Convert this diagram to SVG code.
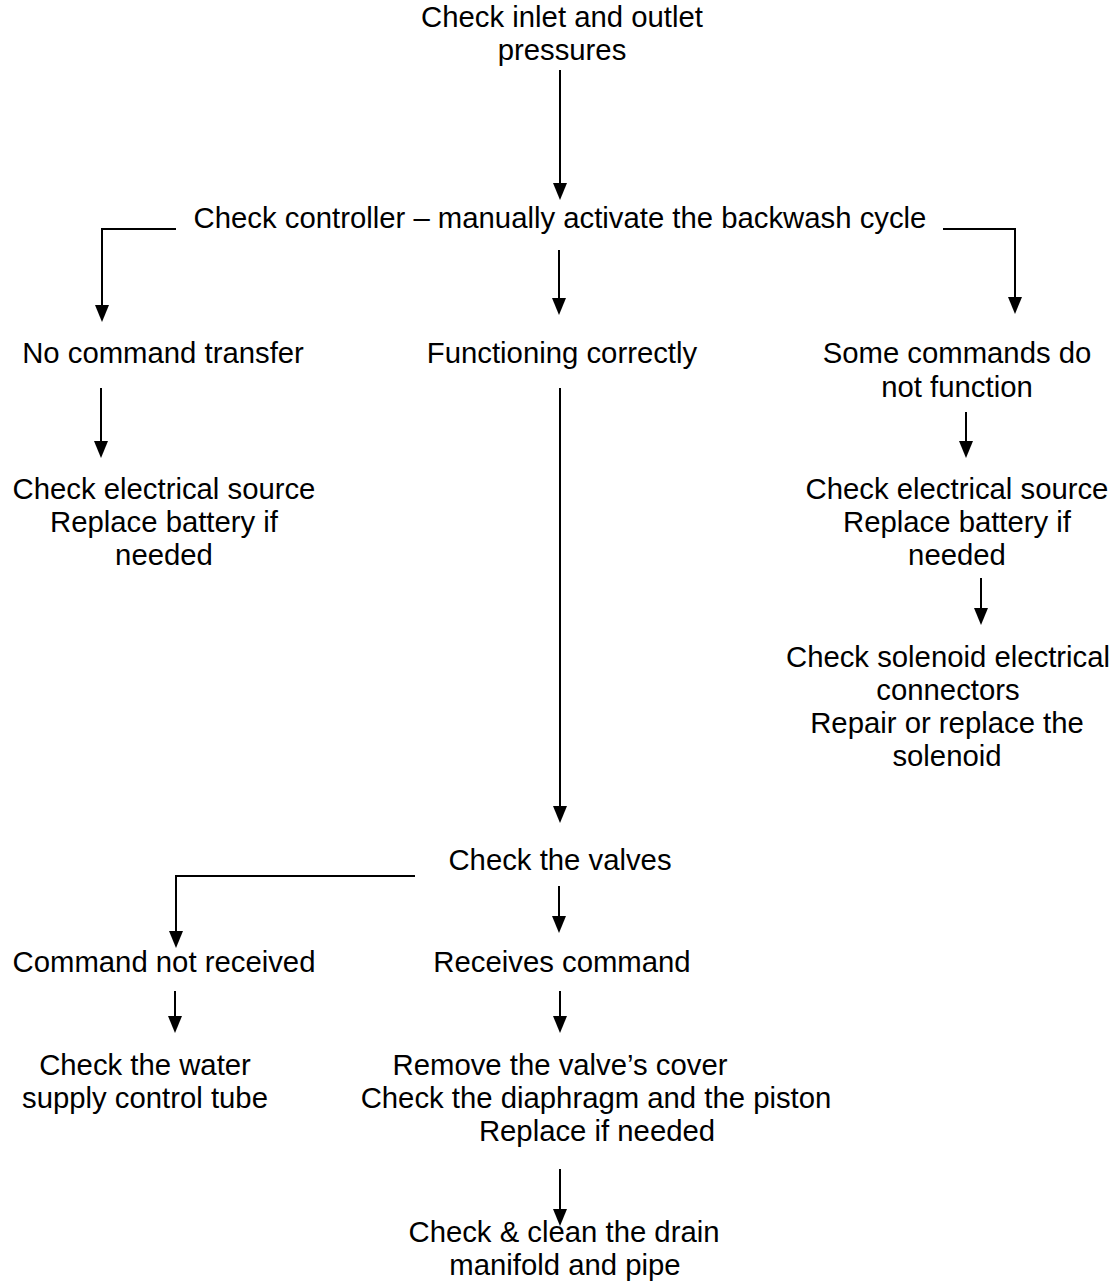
<svg xmlns="http://www.w3.org/2000/svg" width="1118" height="1283" viewBox="0 0 1118 1283">
<defs>
<style>
text{font-family:"Liberation Sans",Arial,sans-serif;font-size:29.3px;fill:#000;text-anchor:middle}
.c{fill:none;stroke:#000;stroke-width:2}
</style>
<marker id="ah" markerUnits="userSpaceOnUse" markerWidth="17" markerHeight="14" viewBox="0 0 17 14" refX="1" refY="7" orient="auto">
<path d="M0,0 L17,7 L0,14 z" fill="#000"/>
</marker>
</defs>
<rect width="1118" height="1283" fill="#fff"/>
<g id="connectors">
<path class="c" d="M560,70 V184" marker-end="url(#ah)"/>
<path class="c" d="M176,229 H102 V306" marker-end="url(#ah)"/>
<path class="c" d="M559,250 V299" marker-end="url(#ah)"/>
<path class="c" d="M943,229 H1015 V298" marker-end="url(#ah)"/>
<path class="c" d="M101,388 V442" marker-end="url(#ah)"/>
<path class="c" d="M560,388 V807" marker-end="url(#ah)"/>
<path class="c" d="M966,412 V442" marker-end="url(#ah)"/>
<path class="c" d="M981,578 V609" marker-end="url(#ah)"/>
<path class="c" d="M415,876 H176 V932" marker-end="url(#ah)"/>
<path class="c" d="M559,886 V917" marker-end="url(#ah)"/>
<path class="c" d="M175,991 V1017" marker-end="url(#ah)"/>
<path class="c" d="M560,991 V1017" marker-end="url(#ah)"/>
<path class="c" d="M560,1169 V1210" marker-end="url(#ah)"/>
</g>
<g id="n1"><text x="562" y="27">Check inlet and outlet</text><text x="562" y="60">pressures</text></g>
<g id="n2"><text x="560" y="228">Check controller – manually activate the backwash cycle</text></g>
<g id="n3"><text x="163" y="363">No command transfer</text></g>
<g id="n4"><text x="562" y="363">Functioning correctly</text></g>
<g id="n5"><text x="957" y="363">Some commands do</text><text x="957" y="397">not function</text></g>
<g id="n6"><text x="164" y="499">Check electrical source</text><text x="164" y="532">Replace battery if</text><text x="164" y="565">needed</text></g>
<g id="n7"><text x="957" y="499">Check electrical source</text><text x="957" y="532">Replace battery if</text><text x="957" y="565">needed</text></g>
<g id="n8"><text x="948" y="667">Check solenoid electrical</text><text x="948" y="700">connectors</text><text x="947" y="733">Repair or replace the</text><text x="947" y="766">solenoid</text></g>
<g id="n9"><text x="560" y="870">Check the valves</text></g>
<g id="n10"><text x="164" y="972">Command not received</text></g>
<g id="n11"><text x="562" y="972">Receives command</text></g>
<g id="n12"><text x="145" y="1075">Check the water</text><text x="145" y="1108">supply control tube</text></g>
<g id="n13"><text x="560" y="1075">Remove the valve’s cover</text><text x="596" y="1108">Check the diaphragm and the piston</text><text x="597" y="1141">Replace if needed</text></g>
<g id="n14"><text x="564" y="1242">Check &amp; clean the drain</text><text x="565" y="1275">manifold and pipe</text></g>
</svg>
